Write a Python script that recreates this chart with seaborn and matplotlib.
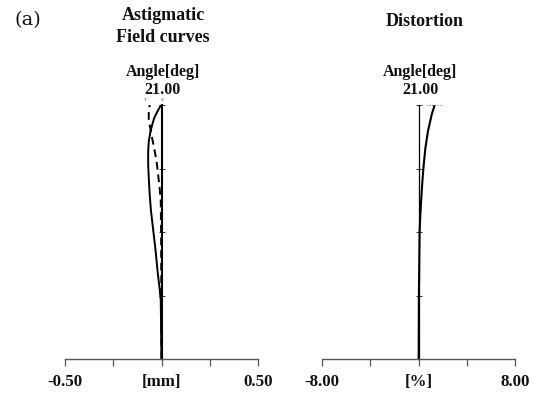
import numpy as np
import pandas as pd
import seaborn as sns
import matplotlib
matplotlib.use("Agg")
import matplotlib.pyplot as plt

sns.set_theme(style="white")
plt.rcParams["font.family"] = ["Liberation Serif", "DejaVu Serif"]

max_angle = 21.0

# Sagittal field curve: field angle [deg] vs focus shift [mm]
angle_sag = [0.0, 4.88, 5.70, 7.36, 9.02, 10.67, 12.32, 13.58, 14.96, 16.06,
             17.17, 18.0, 18.82, 19.37, 19.92, 20.48, 21.0]
sagittal = [0.0, -0.004, -0.009, -0.021, -0.031, -0.043, -0.055, -0.061, -0.066,
            -0.069, -0.069, -0.066, -0.057, -0.048, -0.038, -0.021, -0.002]

# Tangential field curve: field angle [deg] vs focus shift [mm]
angle_tan = [0.0, 10.5, 13.1, 14.2, 15.3, 16.4, 17.5, 18.7, 19.8, 20.6, 21.0]
tangential = [0.0, -0.002, -0.004, -0.010, -0.018, -0.026, -0.039, -0.054,
              -0.066, -0.066, -0.061]

# Distortion: field angle [deg] vs distortion [%]
angle_dist = [0.0, 5.3, 10.56, 11.93, 13.31, 14.69, 16.06, 17.44, 18.82, 20.2, 21.0]
distortion = [0.0, 0.02, 0.08, 0.14, 0.22, 0.31, 0.42, 0.56, 0.77, 1.08, 1.33]

# Dotted marker segment at full field on the distortion plot [%]
dist_ref = [0.6, 2.0]

mm_ticks = [-0.50, -0.25, 0.0, 0.25, 0.50]
mm_labels = ["-0.50", "", "[mm]", "", "0.50"]
pct_ticks = [-8.0, -4.0, 0.0, 4.0, 8.0]
pct_labels = ["-8.00", "", "[%]", "", "8.00"]
angle_ticks = [5.25, 10.5, 15.75, 21.0]

field_df = pd.concat([
    pd.DataFrame({"angle": angle_sag, "value": sagittal, "curve": "S"}),
    pd.DataFrame({"angle": angle_tan, "value": tangential, "curve": "T"}),
])
dist_df = pd.DataFrame({"angle": angle_dist, "value": distortion})

W, H = 544, 393
fig = plt.figure(figsize=(W / 100, H / 100), dpi=100)
fig.patch.set_facecolor("white")


def px_rect(x0, x1, ytop, ybot):
    return [x0 / W, 1 - ybot / H, (x1 - x0) / W, (ybot - ytop) / H]


ax1 = fig.add_axes(px_rect(65, 258, 105, 359))
ax2 = fig.add_axes(px_rect(322.3, 515, 105, 359))

ink = "#111111"
tick_font = dict(fontweight="bold", fontsize=12.2, color=ink)
angle_font = dict(fontweight="bold", fontsize=11.5, color=ink)
title_font = dict(fontweight="bold", fontsize=13, color=ink)


def style_axis(ax, xticks, xlabels, xlim, axis_lw):
    ax.set_facecolor("none")
    ax.set_xlim(*xlim)
    ax.set_ylim(0, max_angle)
    for s in ["top", "right"]:
        ax.spines[s].set_visible(False)
    ax.spines["bottom"].set_color("#555555")
    ax.spines["bottom"].set_linewidth(1.0)
    ax.spines["left"].set_position(("data", 0))
    ax.spines["left"].set_color("black")
    ax.spines["left"].set_linewidth(axis_lw)
    ax.set_xticks(xticks)
    ax.set_xticklabels(xlabels, **tick_font)
    ax.tick_params(axis="x", direction="out", length=5, width=0.9,
                   color="#555555", pad=6, bottom=True)
    ax.set_yticks(angle_ticks)
    ax.set_yticklabels([])
    ax.tick_params(axis="y", direction="inout", length=4, width=0.7,
                   color="#333333", left=True)
    ax.set_xlabel("")
    ax.set_ylabel("")
    ax.grid(False)
    ax.annotate("Angle[deg]", xy=(0, 1), xycoords=("data", "axes fraction"),
                xytext=(1, 23.5), textcoords="offset points",
                ha="center", va="center", **angle_font)
    ax.annotate(f"{max_angle:.2f}", xy=(0, 1), xycoords=("data", "axes fraction"),
                xytext=(1, 10.5), textcoords="offset points",
                ha="center", va="center", **angle_font)


# Astigmatic field curves
sns.lineplot(data=field_df, x="value", y="angle", hue="curve", style="curve",
             hue_order=["S", "T"], style_order=["S", "T"],
             palette={"S": "black", "T": "black"},
             dashes={"S": "", "T": (4, 2.5)},
             sort=False, orient="y", linewidth=1.4, legend=False, ax=ax1)
style_axis(ax1, mm_ticks, mm_labels, (-0.5, 0.5), 1.5)
ax1.annotate("T", xy=(tangential[-1], max_angle), xytext=(-3, 2.5),
             textcoords="offset points", fontsize=3.5, color="#444444",
             ha="center", va="bottom")
ax1.annotate("S", xy=(sagittal[-1], max_angle), xytext=(1, 2.5),
             textcoords="offset points", fontsize=3.5, color="#444444",
             ha="center", va="bottom")

# Distortion
sns.lineplot(data=dist_df, x="value", y="angle", color="black",
             sort=False, orient="y", linewidth=1.5, ax=ax2)
ax2.hlines(max_angle, dist_ref[0], dist_ref[1], colors="#777777",
           linestyles=(0, (1, 1.5)), linewidth=0.8)
style_axis(ax2, pct_ticks, pct_labels, (-8, 8), 0.9)

fig.text(163 / W, 1 - 15 / H, "Astigmatic", ha="center", va="center", **title_font)
fig.text(163 / W, 1 - 38 / H, "Field curves", ha="center", va="center", **title_font)
fig.text(425 / W, 1 - 22 / H, "Distortion", ha="center", va="center", **title_font)
fig.text(14 / W, 1 - 20 / H, "(a)", ha="left", va="center",
         fontsize=14, color=ink, family="DejaVu Serif")

fig.savefig("out.png", dpi=100, facecolor="white")
